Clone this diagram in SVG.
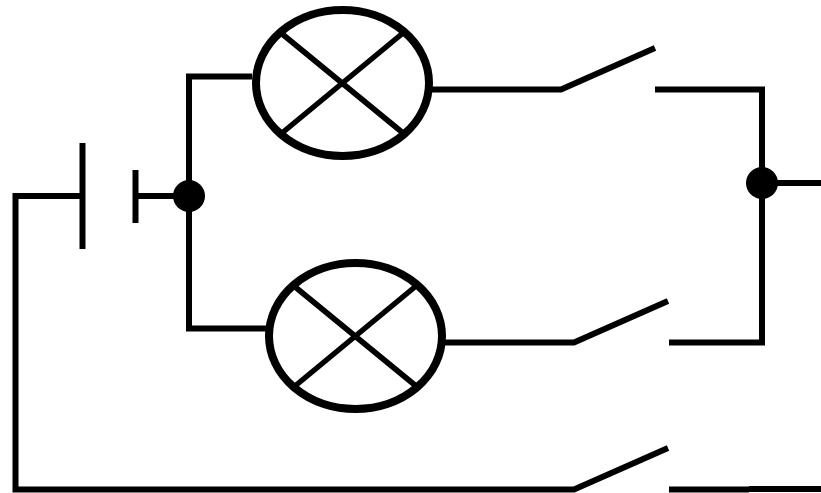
<svg xmlns="http://www.w3.org/2000/svg" width="821" height="493" viewBox="0 0 821 493">
<style>
.w{fill:none;stroke:#000;stroke-width:6;stroke-linejoin:miter}
.l{fill:#fff;stroke:#000;stroke-width:8}
.x{fill:none;stroke:#000;stroke-width:5.5}
</style>
<rect width="821" height="493" fill="#fff"/>
<g id="connectors">
<path class="w" d="M252 76.500H189V328.500H268"/>
<path class="w" d="M430 89.500H561L655 48"/>
<path class="w" d="M655 89.500H762V342.500H669"/>
<path class="w" d="M443 342.500H574L668 301"/>
<path class="w" d="M762 183H821"/>
<path class="w" d="M80 196H15.500V489.500H574L668 448"/>
<path class="w" d="M669 489.500H749M749 489H821"/>
<path class="w" d="M137 196H189"/>
</g>
<g id="battery">
<path class="w" d="M82.500 143V249M135.500 170V223"/>
</g>
<g id="junction-left"><circle cx="189" cy="196" r="16"/></g>
<g id="junction-right"><circle cx="762" cy="183" r="16"/></g>
<g id="lamp-top">
<ellipse class="l" cx="342.500" cy="83" rx="86.500" ry="73"/>
<path class="x" d="M281 33L403 133M403 33L282 133"/>
</g>
<g id="lamp-bottom">
<ellipse class="l" cx="355.500" cy="336" rx="86.500" ry="73"/>
<path class="x" d="M294 286L416 386M416 286L295 386"/>
</g>
</svg>
